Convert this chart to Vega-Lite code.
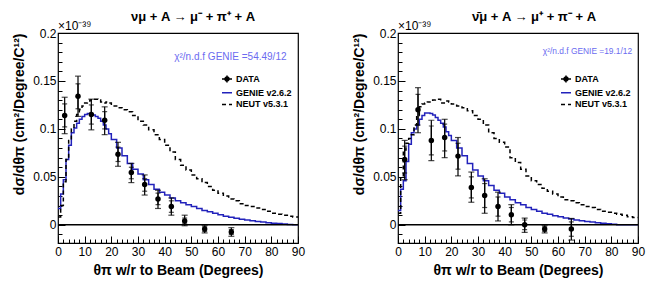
{
  "$schema": "https://vega.github.io/schema/vega-lite/v6.json",
  "background": "white",
  "padding": {"left": 12, "top": 10, "right": 10, "bottom": 5},
  "spacing": 100,
  "bounds": "flush",
  "config": {
    "font": "Liberation Sans",
    "view": {"stroke": "black", "strokeWidth": 1.2},
    "axis": {"domain": false, "grid": false, "labelOverlap": false, "labelFont": "Liberation Sans", "labelFontSize": 12, "labelColor": "black", "titleFont": "Liberation Sans", "titleFontSize": 14, "titleFontWeight": "bold", "titleColor": "black", "tickColor": "black", "tickWidth": 1},
    "title": {"font": "Liberation Sans", "fontSize": 13, "fontWeight": "bold", "color": "black"}
  },
  "resolve": {"scale": {"color": "independent", "strokeDash": "independent"}, "legend": {"color": "independent", "strokeDash": "independent"}},
  "datasets": {
    "cL": [
      {"series": "GENIE v2.6.2", "x": 0, "y": 0.017}, {"series": "GENIE v2.6.2", "x": 1, "y": 0.032}, {"series": "GENIE v2.6.2", "x": 2, "y": 0.047}, {"series": "GENIE v2.6.2", "x": 3, "y": 0.068}, {"series": "GENIE v2.6.2", "x": 4, "y": 0.083}, {"series": "GENIE v2.6.2", "x": 5, "y": 0.096}, {"series": "GENIE v2.6.2", "x": 6, "y": 0.101}, {"series": "GENIE v2.6.2", "x": 7, "y": 0.106}, {"series": "GENIE v2.6.2", "x": 8, "y": 0.110}, {"series": "GENIE v2.6.2", "x": 9, "y": 0.113}, {"series": "GENIE v2.6.2", "x": 10, "y": 0.115}, {"series": "GENIE v2.6.2", "x": 11, "y": 0.116}, {"series": "GENIE v2.6.2", "x": 12, "y": 0.1155}, {"series": "GENIE v2.6.2", "x": 13, "y": 0.1145}, {"series": "GENIE v2.6.2", "x": 14, "y": 0.113}, {"series": "GENIE v2.6.2", "x": 15, "y": 0.111}, {"series": "GENIE v2.6.2", "x": 16, "y": 0.108}, {"series": "GENIE v2.6.2", "x": 17, "y": 0.104}, {"series": "GENIE v2.6.2", "x": 18, "y": 0.100}, {"series": "GENIE v2.6.2", "x": 19, "y": 0.095},
      {"series": "GENIE v2.6.2", "x": 20, "y": 0.089}, {"series": "GENIE v2.6.2", "x": 22, "y": 0.080}, {"series": "GENIE v2.6.2", "x": 24, "y": 0.072}, {"series": "GENIE v2.6.2", "x": 26, "y": 0.064}, {"series": "GENIE v2.6.2", "x": 28, "y": 0.058}, {"series": "GENIE v2.6.2", "x": 30, "y": 0.053}, {"series": "GENIE v2.6.2", "x": 32, "y": 0.047}, {"series": "GENIE v2.6.2", "x": 34, "y": 0.042}, {"series": "GENIE v2.6.2", "x": 36, "y": 0.037}, {"series": "GENIE v2.6.2", "x": 38, "y": 0.034}, {"series": "GENIE v2.6.2", "x": 40, "y": 0.031}, {"series": "GENIE v2.6.2", "x": 42, "y": 0.028}, {"series": "GENIE v2.6.2", "x": 44, "y": 0.025}, {"series": "GENIE v2.6.2", "x": 46, "y": 0.023}, {"series": "GENIE v2.6.2", "x": 48, "y": 0.021}, {"series": "GENIE v2.6.2", "x": 50, "y": 0.019}, {"series": "GENIE v2.6.2", "x": 52, "y": 0.017}, {"series": "GENIE v2.6.2", "x": 54, "y": 0.015}, {"series": "GENIE v2.6.2", "x": 56, "y": 0.0135}, {"series": "GENIE v2.6.2", "x": 58, "y": 0.012}, {"series": "GENIE v2.6.2", "x": 60, "y": 0.0105}, {"series": "GENIE v2.6.2", "x": 62, "y": 0.009}, {"series": "GENIE v2.6.2", "x": 64, "y": 0.0078}, {"series": "GENIE v2.6.2", "x": 66, "y": 0.0068}, {"series": "GENIE v2.6.2", "x": 68, "y": 0.0058}, {"series": "GENIE v2.6.2", "x": 70, "y": 0.005}, {"series": "GENIE v2.6.2", "x": 72, "y": 0.0042}, {"series": "GENIE v2.6.2", "x": 74, "y": 0.0035}, {"series": "GENIE v2.6.2", "x": 76, "y": 0.0028}, {"series": "GENIE v2.6.2", "x": 78, "y": 0.0022}, {"series": "GENIE v2.6.2", "x": 80, "y": 0.0017}, {"series": "GENIE v2.6.2", "x": 82, "y": 0.0013}, {"series": "GENIE v2.6.2", "x": 84, "y": 0.0009}, {"series": "GENIE v2.6.2", "x": 86, "y": 0.0004}, {"series": "GENIE v2.6.2", "x": 88, "y": 0.0001}, {"series": "GENIE v2.6.2", "x": 90, "y": 0.0001},
      {"series": "NEUT v5.3.1", "x": 0, "y": 0.008}, {"series": "NEUT v5.3.1", "x": 1, "y": 0.020}, {"series": "NEUT v5.3.1", "x": 2, "y": 0.045}, {"series": "NEUT v5.3.1", "x": 3, "y": 0.068}, {"series": "NEUT v5.3.1", "x": 4, "y": 0.088}, {"series": "NEUT v5.3.1", "x": 5, "y": 0.100}, {"series": "NEUT v5.3.1", "x": 6, "y": 0.108}, {"series": "NEUT v5.3.1", "x": 7, "y": 0.115}, {"series": "NEUT v5.3.1", "x": 8, "y": 0.120}, {"series": "NEUT v5.3.1", "x": 9, "y": 0.124}, {"series": "NEUT v5.3.1", "x": 10, "y": 0.127}, {"series": "NEUT v5.3.1", "x": 11, "y": 0.129}, {"series": "NEUT v5.3.1", "x": 12, "y": 0.130}, {"series": "NEUT v5.3.1", "x": 13, "y": 0.131}, {"series": "NEUT v5.3.1", "x": 14, "y": 0.131}, {"series": "NEUT v5.3.1", "x": 15, "y": 0.130}, {"series": "NEUT v5.3.1", "x": 16, "y": 0.128}, {"series": "NEUT v5.3.1", "x": 17, "y": 0.127}, {"series": "NEUT v5.3.1", "x": 18, "y": 0.128}, {"series": "NEUT v5.3.1", "x": 19, "y": 0.127},
      {"series": "NEUT v5.3.1", "x": 20, "y": 0.124}, {"series": "NEUT v5.3.1", "x": 22, "y": 0.122}, {"series": "NEUT v5.3.1", "x": 24, "y": 0.120}, {"series": "NEUT v5.3.1", "x": 26, "y": 0.118}, {"series": "NEUT v5.3.1", "x": 28, "y": 0.114}, {"series": "NEUT v5.3.1", "x": 30, "y": 0.108}, {"series": "NEUT v5.3.1", "x": 32, "y": 0.104}, {"series": "NEUT v5.3.1", "x": 34, "y": 0.099}, {"series": "NEUT v5.3.1", "x": 36, "y": 0.094}, {"series": "NEUT v5.3.1", "x": 38, "y": 0.089}, {"series": "NEUT v5.3.1", "x": 40, "y": 0.083}, {"series": "NEUT v5.3.1", "x": 42, "y": 0.076}, {"series": "NEUT v5.3.1", "x": 44, "y": 0.068}, {"series": "NEUT v5.3.1", "x": 46, "y": 0.062}, {"series": "NEUT v5.3.1", "x": 48, "y": 0.057}, {"series": "NEUT v5.3.1", "x": 50, "y": 0.052}, {"series": "NEUT v5.3.1", "x": 52, "y": 0.048}, {"series": "NEUT v5.3.1", "x": 54, "y": 0.044}, {"series": "NEUT v5.3.1", "x": 56, "y": 0.040}, {"series": "NEUT v5.3.1", "x": 58, "y": 0.036}, {"series": "NEUT v5.3.1", "x": 60, "y": 0.033}, {"series": "NEUT v5.3.1", "x": 62, "y": 0.030}, {"series": "NEUT v5.3.1", "x": 64, "y": 0.027}, {"series": "NEUT v5.3.1", "x": 66, "y": 0.025}, {"series": "NEUT v5.3.1", "x": 68, "y": 0.022}, {"series": "NEUT v5.3.1", "x": 70, "y": 0.020}, {"series": "NEUT v5.3.1", "x": 72, "y": 0.019}, {"series": "NEUT v5.3.1", "x": 74, "y": 0.0175}, {"series": "NEUT v5.3.1", "x": 76, "y": 0.016}, {"series": "NEUT v5.3.1", "x": 78, "y": 0.014}, {"series": "NEUT v5.3.1", "x": 80, "y": 0.012}, {"series": "NEUT v5.3.1", "x": 82, "y": 0.011}, {"series": "NEUT v5.3.1", "x": 84, "y": 0.010}, {"series": "NEUT v5.3.1", "x": 86, "y": 0.009}, {"series": "NEUT v5.3.1", "x": 88, "y": 0.008}, {"series": "NEUT v5.3.1", "x": 90, "y": 0.008}
    ],
    "cR": [
      {"series": "GENIE v2.6.2", "x": 0, "y": 0.015}, {"series": "GENIE v2.6.2", "x": 1, "y": 0.037}, {"series": "GENIE v2.6.2", "x": 2, "y": 0.046}, {"series": "GENIE v2.6.2", "x": 3, "y": 0.066}, {"series": "GENIE v2.6.2", "x": 4, "y": 0.084}, {"series": "GENIE v2.6.2", "x": 5, "y": 0.096}, {"series": "GENIE v2.6.2", "x": 6, "y": 0.100}, {"series": "GENIE v2.6.2", "x": 7, "y": 0.104}, {"series": "GENIE v2.6.2", "x": 8, "y": 0.110}, {"series": "GENIE v2.6.2", "x": 9, "y": 0.114}, {"series": "GENIE v2.6.2", "x": 10, "y": 0.1165}, {"series": "GENIE v2.6.2", "x": 11, "y": 0.1165}, {"series": "GENIE v2.6.2", "x": 12, "y": 0.116}, {"series": "GENIE v2.6.2", "x": 13, "y": 0.1145}, {"series": "GENIE v2.6.2", "x": 14, "y": 0.112}, {"series": "GENIE v2.6.2", "x": 15, "y": 0.109}, {"series": "GENIE v2.6.2", "x": 16, "y": 0.106}, {"series": "GENIE v2.6.2", "x": 17, "y": 0.102}, {"series": "GENIE v2.6.2", "x": 18, "y": 0.097}, {"series": "GENIE v2.6.2", "x": 19, "y": 0.093},
      {"series": "GENIE v2.6.2", "x": 20, "y": 0.088}, {"series": "GENIE v2.6.2", "x": 22, "y": 0.080}, {"series": "GENIE v2.6.2", "x": 24, "y": 0.072}, {"series": "GENIE v2.6.2", "x": 26, "y": 0.064}, {"series": "GENIE v2.6.2", "x": 28, "y": 0.057}, {"series": "GENIE v2.6.2", "x": 30, "y": 0.051}, {"series": "GENIE v2.6.2", "x": 32, "y": 0.046}, {"series": "GENIE v2.6.2", "x": 34, "y": 0.041}, {"series": "GENIE v2.6.2", "x": 36, "y": 0.036}, {"series": "GENIE v2.6.2", "x": 38, "y": 0.033}, {"series": "GENIE v2.6.2", "x": 40, "y": 0.029}, {"series": "GENIE v2.6.2", "x": 42, "y": 0.026}, {"series": "GENIE v2.6.2", "x": 44, "y": 0.023}, {"series": "GENIE v2.6.2", "x": 46, "y": 0.021}, {"series": "GENIE v2.6.2", "x": 48, "y": 0.018}, {"series": "GENIE v2.6.2", "x": 50, "y": 0.016}, {"series": "GENIE v2.6.2", "x": 52, "y": 0.014}, {"series": "GENIE v2.6.2", "x": 54, "y": 0.012}, {"series": "GENIE v2.6.2", "x": 56, "y": 0.011}, {"series": "GENIE v2.6.2", "x": 58, "y": 0.0095}, {"series": "GENIE v2.6.2", "x": 60, "y": 0.0083}, {"series": "GENIE v2.6.2", "x": 62, "y": 0.007}, {"series": "GENIE v2.6.2", "x": 64, "y": 0.006}, {"series": "GENIE v2.6.2", "x": 66, "y": 0.005}, {"series": "GENIE v2.6.2", "x": 68, "y": 0.0042}, {"series": "GENIE v2.6.2", "x": 70, "y": 0.0035}, {"series": "GENIE v2.6.2", "x": 72, "y": 0.003}, {"series": "GENIE v2.6.2", "x": 74, "y": 0.0022}, {"series": "GENIE v2.6.2", "x": 76, "y": 0.0016}, {"series": "GENIE v2.6.2", "x": 78, "y": 0.001}, {"series": "GENIE v2.6.2", "x": 80, "y": 0.0006}, {"series": "GENIE v2.6.2", "x": 82, "y": 0.0001}, {"series": "GENIE v2.6.2", "x": 90, "y": 0.0001},
      {"series": "NEUT v5.3.1", "x": 0, "y": 0.012}, {"series": "NEUT v5.3.1", "x": 1, "y": 0.050}, {"series": "NEUT v5.3.1", "x": 2, "y": 0.078}, {"series": "NEUT v5.3.1", "x": 3, "y": 0.085}, {"series": "NEUT v5.3.1", "x": 4, "y": 0.090}, {"series": "NEUT v5.3.1", "x": 5, "y": 0.094}, {"series": "NEUT v5.3.1", "x": 6, "y": 0.104}, {"series": "NEUT v5.3.1", "x": 7, "y": 0.114}, {"series": "NEUT v5.3.1", "x": 8, "y": 0.123}, {"series": "NEUT v5.3.1", "x": 9, "y": 0.126}, {"series": "NEUT v5.3.1", "x": 10, "y": 0.127}, {"series": "NEUT v5.3.1", "x": 11, "y": 0.128}, {"series": "NEUT v5.3.1", "x": 12, "y": 0.129}, {"series": "NEUT v5.3.1", "x": 13, "y": 0.130}, {"series": "NEUT v5.3.1", "x": 14, "y": 0.131}, {"series": "NEUT v5.3.1", "x": 15, "y": 0.131}, {"series": "NEUT v5.3.1", "x": 16, "y": 0.127}, {"series": "NEUT v5.3.1", "x": 17, "y": 0.127}, {"series": "NEUT v5.3.1", "x": 18, "y": 0.129}, {"series": "NEUT v5.3.1", "x": 19, "y": 0.128},
      {"series": "NEUT v5.3.1", "x": 20, "y": 0.126}, {"series": "NEUT v5.3.1", "x": 22, "y": 0.124}, {"series": "NEUT v5.3.1", "x": 24, "y": 0.122}, {"series": "NEUT v5.3.1", "x": 26, "y": 0.119}, {"series": "NEUT v5.3.1", "x": 28, "y": 0.114}, {"series": "NEUT v5.3.1", "x": 30, "y": 0.110}, {"series": "NEUT v5.3.1", "x": 32, "y": 0.104}, {"series": "NEUT v5.3.1", "x": 34, "y": 0.096}, {"series": "NEUT v5.3.1", "x": 36, "y": 0.090}, {"series": "NEUT v5.3.1", "x": 38, "y": 0.086}, {"series": "NEUT v5.3.1", "x": 40, "y": 0.081}, {"series": "NEUT v5.3.1", "x": 42, "y": 0.070}, {"series": "NEUT v5.3.1", "x": 44, "y": 0.065}, {"series": "NEUT v5.3.1", "x": 46, "y": 0.058}, {"series": "NEUT v5.3.1", "x": 48, "y": 0.051}, {"series": "NEUT v5.3.1", "x": 50, "y": 0.046}, {"series": "NEUT v5.3.1", "x": 52, "y": 0.042}, {"series": "NEUT v5.3.1", "x": 54, "y": 0.038}, {"series": "NEUT v5.3.1", "x": 56, "y": 0.035}, {"series": "NEUT v5.3.1", "x": 58, "y": 0.032}, {"series": "NEUT v5.3.1", "x": 60, "y": 0.029}, {"series": "NEUT v5.3.1", "x": 62, "y": 0.026}, {"series": "NEUT v5.3.1", "x": 64, "y": 0.025}, {"series": "NEUT v5.3.1", "x": 66, "y": 0.023}, {"series": "NEUT v5.3.1", "x": 68, "y": 0.021}, {"series": "NEUT v5.3.1", "x": 70, "y": 0.019}, {"series": "NEUT v5.3.1", "x": 72, "y": 0.018}, {"series": "NEUT v5.3.1", "x": 74, "y": 0.016}, {"series": "NEUT v5.3.1", "x": 76, "y": 0.014}, {"series": "NEUT v5.3.1", "x": 78, "y": 0.013}, {"series": "NEUT v5.3.1", "x": 80, "y": 0.012}, {"series": "NEUT v5.3.1", "x": 82, "y": 0.011}, {"series": "NEUT v5.3.1", "x": 84, "y": 0.010}, {"series": "NEUT v5.3.1", "x": 86, "y": 0.0085}, {"series": "NEUT v5.3.1", "x": 88, "y": 0.0075}, {"series": "NEUT v5.3.1", "x": 90, "y": 0.0075}
    ],
    "pL": [
      {"x": 2.5, "y": 0.114, "lo": 0.095, "hi": 0.133, "slo": 0.102, "shi": 0.126},
      {"x": 7.5, "y": 0.134, "lo": 0.113, "hi": 0.155, "slo": 0.121, "shi": 0.147},
      {"x": 12.5, "y": 0.115, "lo": 0.099, "hi": 0.131, "slo": 0.105, "shi": 0.125},
      {"x": 17.5, "y": 0.109, "lo": 0.094, "hi": 0.123, "slo": 0.100, "shi": 0.118},
      {"x": 22.5, "y": 0.0735, "lo": 0.061, "hi": 0.086, "slo": 0.066, "shi": 0.081},
      {"x": 27.5, "y": 0.0545, "lo": 0.044, "hi": 0.064, "slo": 0.048, "shi": 0.060},
      {"x": 32.5, "y": 0.042, "lo": 0.031, "hi": 0.052, "slo": 0.035, "shi": 0.048},
      {"x": 37.5, "y": 0.027, "lo": 0.017, "hi": 0.036, "slo": 0.021, "shi": 0.033},
      {"x": 42.5, "y": 0.019, "lo": 0.010, "hi": 0.028, "slo": 0.013, "shi": 0.025},
      {"x": 47.5, "y": 0.004, "lo": -0.001, "hi": 0.010, "slo": 0.001, "shi": 0.007},
      {"x": 55, "y": -0.0045, "lo": -0.0085, "hi": -0.0005, "slo": -0.007, "shi": -0.002},
      {"x": 65, "y": -0.0075, "lo": -0.012, "hi": -0.003, "slo": -0.010, "shi": -0.005}
    ],
    "pR": [
      {"x": 2.5, "y": 0.068, "lo": 0.047, "hi": 0.088, "slo": 0.054, "shi": 0.082},
      {"x": 7.5, "y": 0.120, "lo": 0.096, "hi": 0.143, "slo": 0.104, "shi": 0.136},
      {"x": 12.5, "y": 0.088, "lo": 0.067, "hi": 0.109, "slo": 0.073, "shi": 0.103},
      {"x": 17.5, "y": 0.091, "lo": 0.070, "hi": 0.110, "slo": 0.077, "shi": 0.105},
      {"x": 22.5, "y": 0.0716, "lo": 0.051, "hi": 0.091, "slo": 0.058, "shi": 0.085},
      {"x": 27.5, "y": 0.039, "lo": 0.0235, "hi": 0.055, "slo": 0.028, "shi": 0.050},
      {"x": 32.5, "y": 0.0305, "lo": 0.012, "hi": 0.048, "slo": 0.018, "shi": 0.043},
      {"x": 37.5, "y": 0.019, "lo": 0.004, "hi": 0.034, "slo": 0.009, "shi": 0.029},
      {"x": 42.5, "y": 0.0105, "lo": 0.0, "hi": 0.021, "slo": 0.003, "shi": 0.018},
      {"x": 47.5, "y": 0.0, "lo": -0.008, "hi": 0.007, "slo": -0.005, "shi": 0.005},
      {"x": 55, "y": -0.0045, "lo": -0.0085, "hi": -0.0005, "slo": -0.007, "shi": -0.002},
      {"x": 65, "y": -0.0045, "lo": -0.016, "hi": 0.0066, "slo": -0.012, "shi": 0.003}
    ]
  },
  "hconcat": [
    {
      "width": 240, "height": 210,
      "title": {"text": "νμ + A → μ⁻ + π⁺ + A", "dx": 15, "offset": -4},
      "resolve": {"axis": {"x": "independent", "y": "independent"}},
      "layer": [
        {
          "layer": [
            {
              "data": {"name": "cL"},
              "mark": {"type": "line", "interpolate": "step-after", "strokeWidth": 1.5},
              "encoding": {
                "x": {"field": "x", "type": "quantitative", "scale": {"domain": [0, 90], "nice": false, "zero": false}, "title": "θπ w/r to Beam (Degrees)",
                  "axis": {"values": [0, 10, 20, 30, 40, 50, 60, 70, 80, 90], "tickCount": 100, "ticks": false, "labelPadding": 3, "labelFlush": false, "labelOverlap": false, "titlePadding": 6}},
                "y": {"field": "y", "type": "quantitative", "scale": {"domain": [-0.019, 0.2], "nice": false, "zero": false}, "title": "dσ/dθπ (cm²/Degree/C¹²)",
                  "axis": {"values": [0, 0.05, 0.1, 0.15, 0.2], "tickCount": 100, "labelExpr": "'' + datum.value", "ticks": false, "labelPadding": 2, "labelOverlap": false, "labelFlush": false, "titleAnchor": "end", "titlePadding": 6}},
                "color": {"field": "series", "type": "nominal", "scale": {"domain": ["DATA", "GENIE v2.6.2", "NEUT v5.3.1"], "range": ["black", "#2222bb", "black"]},
                  "legend": {"title": null, "orient": "none", "legendX": 163, "legendY": 40, "padding": 0, "symbolType": "stroke", "symbolSize": 100, "symbolStrokeWidth": 1.5, "labelFont": "Liberation Sans", "labelFontSize": 9, "labelFontWeight": "bold", "labelColor": "black", "labelOffset": 3, "rowPadding": 0.7, "labelLimit": 200,
                    "encode": {"symbols": {"update": {"shape": {"signal": "datum.value === 'DATA' ? 'M-1,0H1M0,-0.7V0.7M0.4,0A0.4,0.4,0,1,1,-0.4,0A0.4,0.4,0,1,1,0.4,0' : 'stroke'"}, "fill": {"signal": "datum.value === 'DATA' ? 'black' : 'transparent'"}}}}}},
                "strokeDash": {"field": "series", "type": "nominal", "scale": {"domain": ["DATA", "GENIE v2.6.2", "NEUT v5.3.1"], "range": [[1, 0], [1, 0], [4, 3]]},
                  "legend": {"title": null, "orient": "none", "legendX": 163, "legendY": 40, "padding": 0, "symbolType": "stroke", "symbolSize": 100, "symbolStrokeWidth": 1.5, "labelFont": "Liberation Sans", "labelFontSize": 9, "labelFontWeight": "bold", "labelColor": "black", "labelOffset": 3, "rowPadding": 0.7, "labelLimit": 200,
                    "encode": {"symbols": {"update": {"shape": {"signal": "datum.value === 'DATA' ? 'M-1,0H1M0,-0.7V0.7M0.4,0A0.4,0.4,0,1,1,-0.4,0A0.4,0.4,0,1,1,0.4,0' : 'stroke'"}, "fill": {"signal": "datum.value === 'DATA' ? 'black' : 'transparent'"}}}}}}
              }
            },
            {
              "data": {"values": [{}]},
              "mark": {"type": "rule", "color": "black", "strokeWidth": 1.5},
              "encoding": {"y": {"datum": 0, "type": "quantitative"}}
            },
            {
              "data": {"name": "pL"},
              "mark": {"type": "errorbar", "ticks": {"size": 6}, "thickness": 1.2, "color": "black"},
              "encoding": {"x": {"field": "x", "type": "quantitative", "title": "θπ w/r to Beam (Degrees)"}, "y": {"field": "lo", "type": "quantitative", "title": "dσ/dθπ (cm²/Degree/C¹²)"}, "y2": {"field": "hi"}}
            },
            {
              "data": {"name": "pL"},
              "mark": {"type": "errorbar", "ticks": {"size": 5}, "thickness": 1.2, "color": "black"},
              "encoding": {"x": {"field": "x", "type": "quantitative", "title": "θπ w/r to Beam (Degrees)"}, "y": {"field": "slo", "type": "quantitative", "title": "dσ/dθπ (cm²/Degree/C¹²)"}, "y2": {"field": "shi"}}
            },
            {
              "data": {"name": "pL"},
              "mark": {"type": "point", "filled": true, "size": 30, "color": "black", "opacity": 1},
              "encoding": {"x": {"field": "x", "type": "quantitative", "title": "θπ w/r to Beam (Degrees)"}, "y": {"field": "y", "type": "quantitative", "title": "dσ/dθπ (cm²/Degree/C¹²)"}}
            },
            {
              "data": {"values": [{}]},
              "mark": {"type": "text", "text": "×10⁻³⁹", "align": "left", "baseline": "bottom", "fontSize": 12, "font": "Liberation Sans", "color": "black"},
              "encoding": {"x": {"datum": 0, "type": "quantitative"}, "y": {"datum": 0.2, "type": "quantitative"}}
            },
            {
              "data": {"values": [{}]},
              "mark": {"type": "text", "text": "χ²/n.d.f GENIE =54.49/12", "align": "left", "baseline": "middle", "fontSize": 10, "font": "Liberation Sans", "color": "#6b6bf0"},
              "encoding": {"x": {"datum": 43.6, "type": "quantitative"}, "y": {"datum": 0.175, "type": "quantitative"}}
            }
          ]
        },
        {
          "data": {"name": "pL"},
          "mark": {"type": "point", "opacity": 0},
          "encoding": {
            "x": {"field": "x", "type": "quantitative", "axis": {"orient": "bottom", "values": [0,2,4,6,8,10,12,14,16,18,20,22,24,26,28,30,32,34,36,38,40,42,44,46,48,50,52,54,56,58,60,62,64,66,68,70,72,74,76,78,80,82,84,86,88,90], "tickCount": 100, "labels": false, "tickSize": {"condition": {"test": "datum.value % 10 === 0", "value": -7}, "value": -4}, "title": null}},
            "y": {"field": "y", "type": "quantitative", "axis": {"orient": "left", "values": [-0.01,0,0.01,0.02,0.03,0.04,0.05,0.06,0.07,0.08,0.09,0.1,0.11,0.12,0.13,0.14,0.15,0.16,0.17,0.18,0.19,0.2], "tickCount": 100, "labels": false, "tickSize": {"condition": {"test": "abs(round(datum.value*100)) % 5 === 0", "value": -7}, "value": -4}, "title": null}}
          }
        }
      ]
    },
    {
      "width": 240, "height": 210,
      "title": {"text": "ν̄μ + A → μ⁺ + π⁻ + A", "dx": 16, "offset": -4},
      "resolve": {"axis": {"x": "independent", "y": "independent"}},
      "layer": [
        {
          "layer": [
            {
              "data": {"name": "cR"},
              "mark": {"type": "line", "interpolate": "step-after", "strokeWidth": 1.5},
              "encoding": {
                "x": {"field": "x", "type": "quantitative", "scale": {"domain": [0, 90], "nice": false, "zero": false}, "title": "θπ w/r to Beam (Degrees)",
                  "axis": {"values": [0, 10, 20, 30, 40, 50, 60, 70, 80, 90], "tickCount": 100, "ticks": false, "labelPadding": 3, "labelFlush": false, "labelOverlap": false, "titlePadding": 6}},
                "y": {"field": "y", "type": "quantitative", "scale": {"domain": [-0.019, 0.2], "nice": false, "zero": false}, "title": "dσ/dθπ (cm²/Degree/C¹²)",
                  "axis": {"values": [0, 0.05, 0.1, 0.15, 0.2], "tickCount": 100, "labelExpr": "'' + datum.value", "ticks": false, "labelPadding": 2, "labelOverlap": false, "labelFlush": false, "titleAnchor": "end", "titlePadding": 6}},
                "color": {"field": "series", "type": "nominal", "scale": {"domain": ["DATA", "GENIE v2.6.2", "NEUT v5.3.1"], "range": ["black", "#2222bb", "black"]},
                  "legend": {"title": null, "orient": "none", "legendX": 162, "legendY": 40, "padding": 0, "symbolType": "stroke", "symbolSize": 100, "symbolStrokeWidth": 1.5, "labelFont": "Liberation Sans", "labelFontSize": 9, "labelFontWeight": "bold", "labelColor": "black", "labelOffset": 3, "rowPadding": 0.7, "labelLimit": 200,
                    "encode": {"symbols": {"update": {"shape": {"signal": "datum.value === 'DATA' ? 'M-1,0H1M0,-0.7V0.7M0.4,0A0.4,0.4,0,1,1,-0.4,0A0.4,0.4,0,1,1,0.4,0' : 'stroke'"}, "fill": {"signal": "datum.value === 'DATA' ? 'black' : 'transparent'"}}}}}},
                "strokeDash": {"field": "series", "type": "nominal", "scale": {"domain": ["DATA", "GENIE v2.6.2", "NEUT v5.3.1"], "range": [[1, 0], [1, 0], [4, 3]]},
                  "legend": {"title": null, "orient": "none", "legendX": 162, "legendY": 40, "padding": 0, "symbolType": "stroke", "symbolSize": 100, "symbolStrokeWidth": 1.5, "labelFont": "Liberation Sans", "labelFontSize": 9, "labelFontWeight": "bold", "labelColor": "black", "labelOffset": 3, "rowPadding": 0.7, "labelLimit": 200,
                    "encode": {"symbols": {"update": {"shape": {"signal": "datum.value === 'DATA' ? 'M-1,0H1M0,-0.7V0.7M0.4,0A0.4,0.4,0,1,1,-0.4,0A0.4,0.4,0,1,1,0.4,0' : 'stroke'"}, "fill": {"signal": "datum.value === 'DATA' ? 'black' : 'transparent'"}}}}}}
              }
            },
            {
              "data": {"values": [{}]},
              "mark": {"type": "rule", "color": "black", "strokeWidth": 1.5},
              "encoding": {"y": {"datum": 0, "type": "quantitative"}}
            },
            {
              "data": {"name": "pR"},
              "mark": {"type": "errorbar", "ticks": {"size": 6}, "thickness": 1.2, "color": "black"},
              "encoding": {"x": {"field": "x", "type": "quantitative", "title": "θπ w/r to Beam (Degrees)"}, "y": {"field": "lo", "type": "quantitative", "title": "dσ/dθπ (cm²/Degree/C¹²)"}, "y2": {"field": "hi"}}
            },
            {
              "data": {"name": "pR"},
              "mark": {"type": "errorbar", "ticks": {"size": 5}, "thickness": 1.2, "color": "black"},
              "encoding": {"x": {"field": "x", "type": "quantitative", "title": "θπ w/r to Beam (Degrees)"}, "y": {"field": "slo", "type": "quantitative", "title": "dσ/dθπ (cm²/Degree/C¹²)"}, "y2": {"field": "shi"}}
            },
            {
              "data": {"name": "pR"},
              "mark": {"type": "point", "filled": true, "size": 30, "color": "black", "opacity": 1},
              "encoding": {"x": {"field": "x", "type": "quantitative", "title": "θπ w/r to Beam (Degrees)"}, "y": {"field": "y", "type": "quantitative", "title": "dσ/dθπ (cm²/Degree/C¹²)"}}
            },
            {
              "data": {"values": [{}]},
              "mark": {"type": "text", "text": "×10⁻³⁹", "align": "left", "baseline": "bottom", "fontSize": 12, "font": "Liberation Sans", "color": "black"},
              "encoding": {"x": {"datum": 0, "type": "quantitative"}, "y": {"datum": 0.2, "type": "quantitative"}}
            },
            {
              "data": {"values": [{}]},
              "mark": {"type": "text", "text": "χ²/n.d.f GENIE =19.1/12", "align": "left", "baseline": "middle", "fontSize": 8.4, "font": "Liberation Sans", "color": "#6b6bf0"},
              "encoding": {"x": {"datum": 54.3, "type": "quantitative"}, "y": {"datum": 0.181, "type": "quantitative"}}
            }
          ]
        },
        {
          "data": {"name": "pR"},
          "mark": {"type": "point", "opacity": 0},
          "encoding": {
            "x": {"field": "x", "type": "quantitative", "axis": {"orient": "bottom", "values": [0,2,4,6,8,10,12,14,16,18,20,22,24,26,28,30,32,34,36,38,40,42,44,46,48,50,52,54,56,58,60,62,64,66,68,70,72,74,76,78,80,82,84,86,88,90], "tickCount": 100, "labels": false, "tickSize": {"condition": {"test": "datum.value % 10 === 0", "value": -7}, "value": -4}, "title": null}},
            "y": {"field": "y", "type": "quantitative", "axis": {"orient": "left", "values": [-0.01,0,0.01,0.02,0.03,0.04,0.05,0.06,0.07,0.08,0.09,0.1,0.11,0.12,0.13,0.14,0.15,0.16,0.17,0.18,0.19,0.2], "tickCount": 100, "labels": false, "tickSize": {"condition": {"test": "abs(round(datum.value*100)) % 5 === 0", "value": -7}, "value": -4}, "title": null}}
          }
        }
      ]
    }
  ]
}
